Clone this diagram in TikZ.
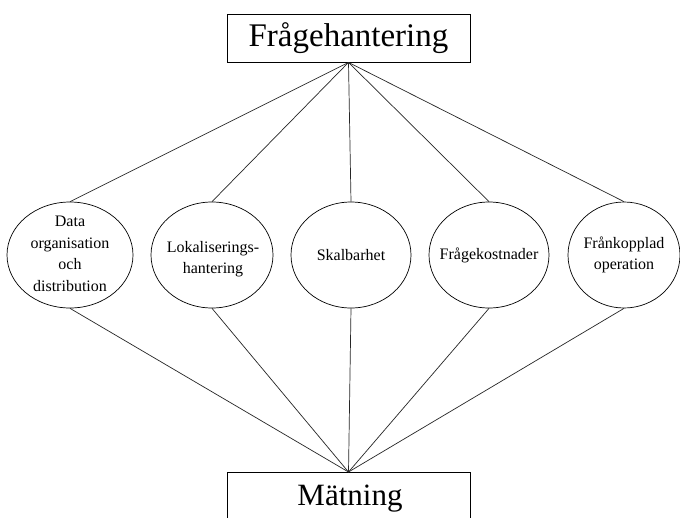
\documentclass[tikz,border=0pt]{standalone}
\usepackage{fontspec}
\setmainfont{Liberation Serif}
\usetikzlibrary{shapes.geometric}
\begin{document}
\begin{tikzpicture}[x=1pt,y=-1pt,
  conn/.style={draw=black!85,line width=0.7pt},
  bigbox/.style={draw,line width=0.8pt,minimum width=243pt,inner sep=0pt,font=\fontsize{33}{36}\selectfont},
  topic/.style={ellipse,draw,line width=0.7pt,minimum width=120pt,minimum height=106pt,inner sep=0pt},
  topictext/.style={inner sep=0pt,align=center,font=\fontsize{16}{21.5}\selectfont}]
\useasboundingbox (0,0) rectangle (680,517);
\clip (0,0) rectangle (680,517);
\fill[white] (0,0) rectangle (680,517);
\node[bigbox,minimum height=48pt] (top) at (348.5,38) {Frågehantering};
\node[bigbox,minimum height=64pt,anchor=north,text depth=0pt] (bot) at (348.5,472) {};
\node[font=\fontsize{31}{34}\selectfont,anchor=base] (botlabel) at (350,505) {Mätning};
\node[topic,minimum width=126pt] (a) at (70,255) {};
\node[topic,minimum width=122pt] (b) at (212,255) {};
\node[topic] (c) at (351,255) {};
\node[topic] (d) at (489,255) {};
\node[topic,minimum width=112pt] (e) at (624,255) {};
\node[topictext] (at) at (70,254) {Data\\organisation\\och\\distribution};
\node[topictext] (bt) at (213,259) {Lokaliserings-\\hantering};
\node[topictext] (ct) at (351,255) {Skalbarhet};
\node[topictext] (dt) at (489,255) {Frågekostnader};
\node[topictext] (et) at (624,255) {Frånkopplad\\operation};
\foreach \n in {a,b,c,d,e}{
  \draw[conn] (top.south) -- (\n.north);
  \draw[conn] (\n.south) -- (bot.north);
}
\end{tikzpicture}
\end{document}
